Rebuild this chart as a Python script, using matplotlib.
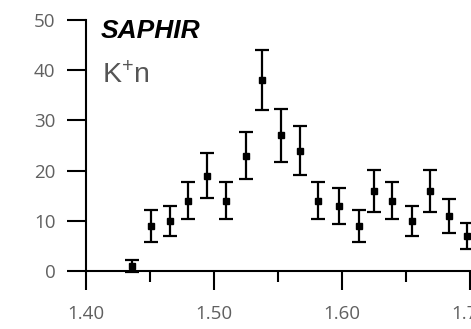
import matplotlib
matplotlib.use("Agg")
import matplotlib.pyplot as plt
from matplotlib.ticker import MultipleLocator

# Data (mass in GeV, counts)
mass = [1.436, 1.4505, 1.4656, 1.480, 1.4948, 1.5094, 1.525, 1.5377, 1.5523,
        1.5672, 1.5815, 1.598, 1.6133, 1.6253, 1.6388, 1.6544, 1.6688,
        1.6836, 1.6979]
counts = [1, 9, 10, 14, 19, 14, 23, 38, 27, 24, 14, 13, 9, 16, 14, 10, 16, 11, 7]
errors = [1.1, 3.2, 3.0, 3.7, 4.5, 3.7, 4.7, 6.0, 5.3, 4.8, 3.7, 3.6, 3.2,
          4.2, 3.7, 3.0, 4.2, 3.4, 2.6]
xticks = [1.40, 1.50, 1.60, 1.70]
xticklabels = ["1.40", "1.50", "1.60", "1.70"]
yticks = [0, 10, 20, 30, 40, 50]

W, H = 471, 329
fig = plt.figure(figsize=(W / 100, H / 100), dpi=100)
ax = fig.add_axes([86 / W, 1 - 271 / H, (471 - 86) / W, (271 - 20) / H])

ax.errorbar(mass, counts, yerr=errors, fmt="s", color="black", ms=4.5,
            elinewidth=1.6, capsize=4.7, capthick=1.6, clip_on=False)

ax.set_xlim(1.40, 1.40 + 385 / 1280)
ax.set_ylim(0, 50)
ax.set_xticks(xticks)
ax.set_xticklabels(xticklabels)
ax.xaxis.set_minor_locator(MultipleLocator(0.05))
ax.set_yticks(yticks)

for side in ["top", "right"]:
    ax.spines[side].set_visible(False)
for side in ["left", "bottom"]:
    ax.spines[side].set_linewidth(1.5)

label_color = "#606060"
ax.tick_params(axis="y", which="major", length=14, width=1.5, pad=8,
               labelsize=13.5, labelcolor=label_color)
ax.tick_params(axis="x", which="major", length=13.5, width=1.5, pad=11,
               labelsize=13.5, labelcolor=label_color)
ax.tick_params(axis="x", which="minor", length=8, width=1.5)
for lbl in ax.get_xticklabels() + ax.get_yticklabels():
    lbl.set_family("Open Sans")

ax.text(101 / W, 1 - 38 / H, "SAPHIR", transform=fig.transFigure,
        family="Liberation Sans", fontsize=19, fontweight="bold",
        fontstyle="italic", color="black", va="baseline", ha="left")
ax.text(102 / W, 1 - 83 / H, r"$\mathregular{K^{+}n}$", transform=fig.transFigure,
        family="Liberation Sans", fontsize=20.5, color="#555555",
        va="baseline", ha="left")

fig.savefig("out.png", dpi=100)
